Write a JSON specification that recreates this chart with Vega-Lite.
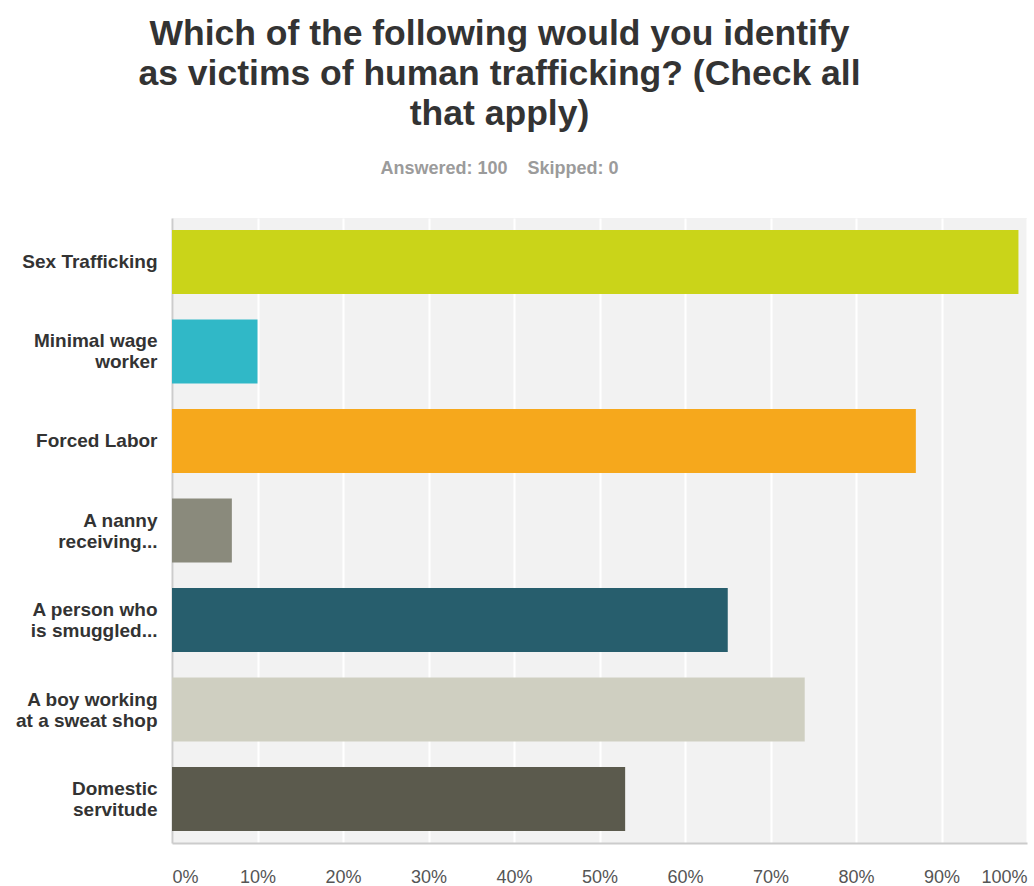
{
  "$schema": "https://vega.github.io/schema/vega-lite/v6.json",
  "width": 855,
  "height": 625,
  "autosize": {"type": "none"},
  "padding": {"left": 172, "top": 218, "right": 7, "bottom": 43},
  "background": "#ffffff",
  "title": {
    "text": ["Which of the following would you identify", "as victims of human trafficking? (Check all", "that apply)"],
    "subtitle": "Answered: 100\u00a0\u00a0\u00a0\u00a0Skipped: 0",
    "anchor": "middle",
    "frame": "group",
    "dx": -100,
    "font": "Liberation Sans",
    "fontSize": 35.5,
    "fontWeight": "bold",
    "color": "#333333",
    "lineHeight": 40,
    "subtitleFont": "Liberation Sans",
    "subtitleFontSize": 18,
    "subtitleFontWeight": "bold",
    "subtitleColor": "#9b9b9b",
    "subtitlePadding": 28,
    "offset": 40
  },
  "data": {
    "values": [
      {"answer": "Sex Trafficking", "pct": 99},
      {"answer": "Minimal wage\nworker", "pct": 10},
      {"answer": "Forced Labor", "pct": 87},
      {"answer": "A nanny\nreceiving...", "pct": 7},
      {"answer": "A person who\nis smuggled...", "pct": 65},
      {"answer": "A boy working\nat a sweat shop", "pct": 74},
      {"answer": "Domestic\nservitude", "pct": 53}
    ]
  },
  "config": {
    "view": {"fill": "#f2f2f2", "stroke": null}
  },
  "mark": {"type": "bar"},
  "encoding": {
    "y": {
      "field": "answer",
      "type": "nominal",
      "sort": null,
      "scale": {"paddingInner": 0.285, "paddingOuter": 0.134},
      "axis": {
        "title": null,
        "ticks": false,
        "tickSize": 0,
        "labelPadding": 15,
        "labelOffset": {"condition": {"test": "indexof(datum.value, '\\n') >= 0", "value": -10}, "value": 0},
        "labelFont": "Liberation Sans",
        "labelFontSize": 19,
        "labelFontWeight": "bold",
        "labelColor": "#333333",
        "labelLineHeight": 21,
        "labelLimit": 300,
        "labelExpr": "split(datum.label, '\\n')",
        "domainColor": "#cccccc",
        "domainWidth": 2
      }
    },
    "x": {
      "field": "pct",
      "type": "quantitative",
      "scale": {"domain": [0, 100]},
      "axis": {
        "title": null,
        "values": [0, 10, 20, 30, 40, 50, 60, 70, 80, 90, 100],
        "labelExpr": "datum.value + '%'",
        "ticks": false,
        "tickSize": 0,
        "labelPadding": 25,
        "labelFlush": true,
        "labelFont": "Liberation Sans",
        "labelFontSize": 18,
        "labelColor": "#555555",
        "grid": true,
        "gridColor": "#ffffff",
        "gridWidth": 2,
        "domainColor": "#cccccc",
        "domainWidth": 2
      }
    },
    "color": {
      "field": "answer",
      "type": "nominal",
      "legend": null,
      "scale": {
        "domain": ["Sex Trafficking", "Minimal wage\nworker", "Forced Labor", "A nanny\nreceiving...", "A person who\nis smuggled...", "A boy working\nat a sweat shop", "Domestic\nservitude"],
        "range": ["#cad419", "#30b8c7", "#f6a81c", "#8a8a7c", "#275e6d", "#cfcfc1", "#5b5a4d"]
      }
    }
  }
}
